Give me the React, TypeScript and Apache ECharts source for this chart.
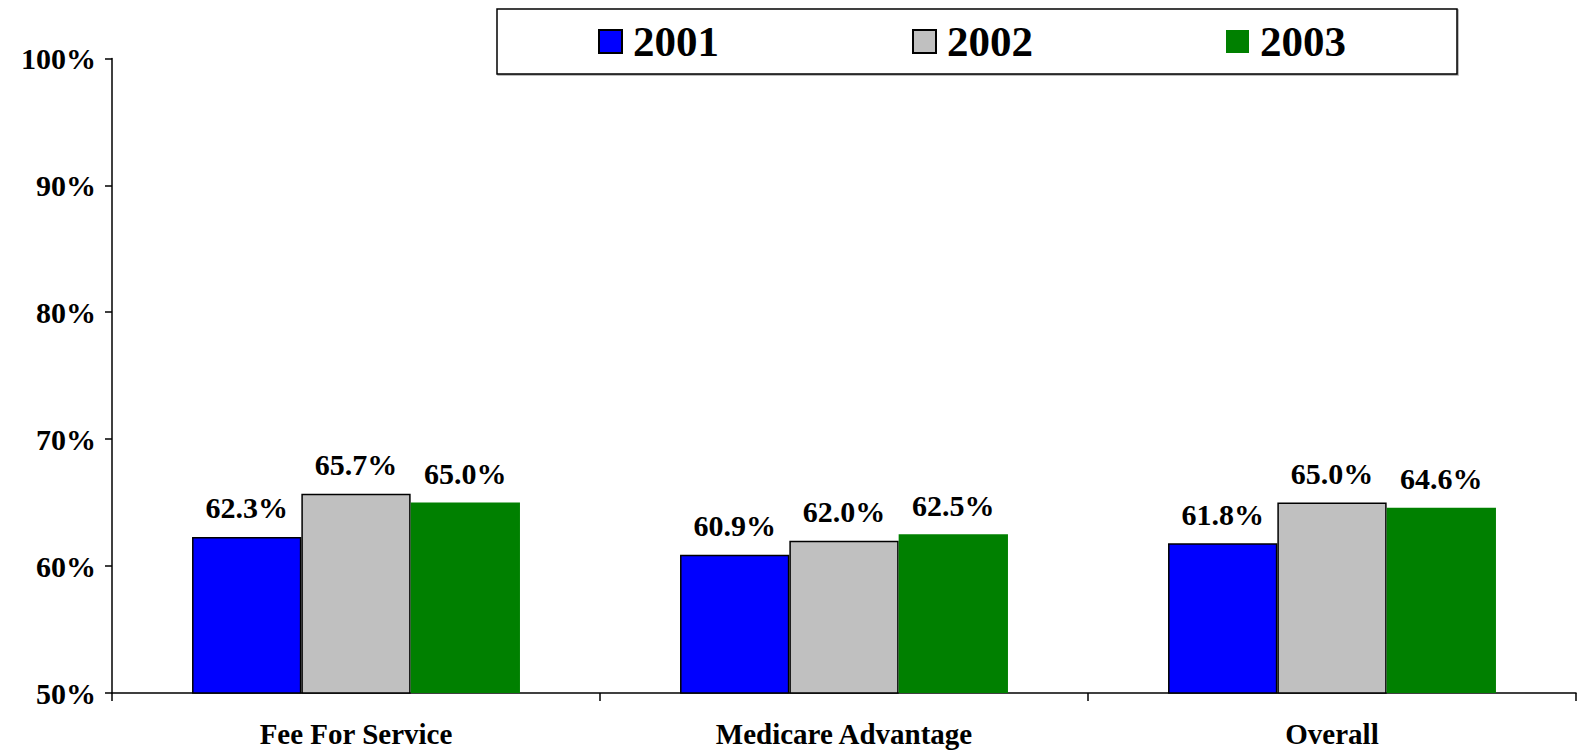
import React, { useEffect, useRef } from "react";
import * as echarts from "echarts";

const categories = ["Fee For Service", "Medicare Advantage", "Overall"];
const seriesNames = ["2001", "2002", "2003"];
const values2001 = [62.3, 60.9, 61.8];
const values2002 = [65.7, 62.0, 65.0];
const values2003 = [65.0, 62.5, 64.6];
const colors = ["#0000FF", "#C0C0C0", "#008000"];

const FONT = "Liberation Serif";

export default function App() {
  const ref = useRef<HTMLDivElement>(null);
  useEffect(() => {
    if (!ref.current) return;
    const chart = echarts.init(ref.current, undefined, { renderer: "svg" });
    const data = [values2001, values2002, values2003];
    chart.setOption({
      animation: false,
      backgroundColor: "#ffffff",
      textStyle: { fontFamily: FONT },
      grid: { left: 112, right: 3, top: 58.4, bottom: 57, containLabel: false },
      legend: {
        left: 497,
        top: 9,
        padding: [10, 111, 10, 101],
        itemGap: 193,
        itemWidth: 23,
        itemHeight: 23,
        borderColor: "#000",
        borderWidth: 1.5,
        backgroundColor: "#fff",
        shadowColor: "rgba(0,0,0,0.35)",
        shadowOffsetX: 1,
        shadowOffsetY: 1,
        shadowBlur: 1,
        icon: "rect",
        data: seriesNames,
        textStyle: {
          fontFamily: FONT,
          fontWeight: "bold",
          fontSize: 43,
          color: "#000",
          lineHeight: 45,
          padding: [0, 0, 0, 6],
        },
      },
      xAxis: {
        type: "category",
        data: categories,
        axisLine: { lineStyle: { color: "#000", width: 1.5 } },
        axisTick: { show: true, alignWithLabel: false, interval: 0, length: 8, lineStyle: { color: "#000", width: 1.5 } },
        axisLabel: {
          margin: 26,
          fontFamily: FONT,
          fontWeight: "bold",
          fontSize: 29,
          color: "#000",
        },
        splitLine: { show: false },
      },
      yAxis: {
        type: "value",
        min: 50,
        max: 100,
        interval: 10,
        axisLine: { show: true, lineStyle: { color: "#000", width: 1.5 } },
        axisTick: { show: true, length: 7, lineStyle: { color: "#000", width: 1.5 } },
        axisLabel: {
          formatter: "{value}%",
          margin: 16,
          fontFamily: FONT,
          fontWeight: "bold",
          fontSize: 30,
          color: "#000",
        },
        splitLine: { show: false },
      },
      series: seriesNames.map((name, i) => ({
        name,
        type: "bar",
        data: data[i],
        barGap: "0%",
        barCategoryGap: "32.8%",
        itemStyle: {
          color: colors[i],
          borderColor: i === 2 ? colors[i] : "#000",
          borderWidth: i === 2 ? 0 : 1.5,
        },
        label: {
          show: true,
          position: "top",
          distance: 14,
          formatter: (p: any) => p.value.toFixed(1) + "%",
          fontFamily: FONT,
          fontWeight: "bold",
          fontSize: 30,
          color: "#000",
        },
      })),
    });
    return () => chart.dispose();
  }, []);
  return (
    <div
      ref={ref}
      style={{ position: "fixed", left: 0, top: 0, width: 1579, height: 750 }}
    />
  );
}
